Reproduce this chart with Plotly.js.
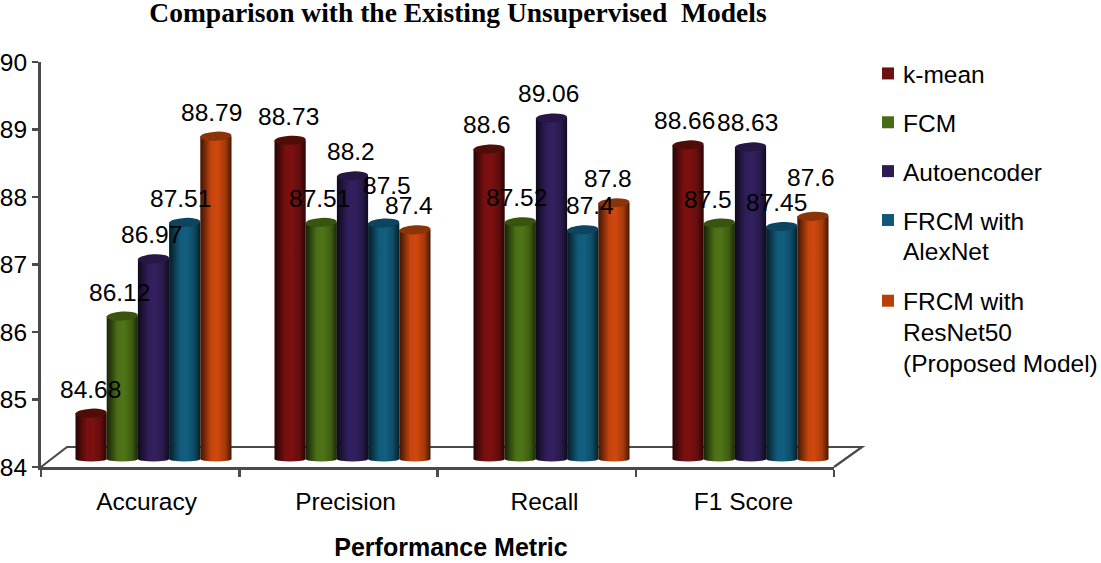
<!DOCTYPE html>
<html><head><meta charset="utf-8">
<script src="https://cdn.plot.ly/plotly-3.0.1.min.js"></script>
<style>html,body{margin:0;padding:0;background:#fff}</style></head>
<body><div id="chart" style="width:1101px;height:563px"></div>
<script>
const metrics = ["Accuracy", "Precision", "Recall", "F1 Score"];
const seriesNames = ["k-mean", "FCM", "Autoencoder", "FRCM with<br>AlexNet", "FRCM with<br>ResNet50<br>(Proposed Model)"];
const kMean = [84.68, 88.73, 88.6, 88.66];
const fcm = [86.12, 87.51, 87.52, 87.5];
const autoencoder = [86.97, 88.2, 89.06, 88.63];
const frcmAlexNet = [87.51, 87.5, 87.4, 87.45];
const frcmResNet = [88.79, 87.4, 87.8, 87.6];
const seriesValues = [kMean, fcm, autoencoder, frcmAlexNet, frcmResNet];
const legendColors = ["#6c1010", "#476b14", "#2c1b54", "#115878", "#bb4008"];
const bodyColors = ["#7d1010", "#4f7517", "#33205f", "#125f80", "#d0480e"];
const topColors = ["#4f0d08", "#39540f", "#261745", "#0d4460", "#8a3408"];
// hand placement of the value labels, px relative to the default spot (series x metric)
const labelDx = [[-1,-2,-2,-4],[-3,-2,-4,-11],[-2,-2,-3,-3],[-4,3,7,-5],[-4,-6,-6,-2]];
const labelDy = [[0,0,0,0],[0,0,0,0],[0,0,0,0],[0,14,0,0],[0,0,0,15]];

const W = 1101, H = 563;
const PL = 41, PR = 880, PT = 40, PB = 480;
const fx = p => (p - PL) / (PR - PL);
const fy = p => (PB - p) / (PB - PT);
const barSpan = 199;

const traces = seriesValues.map((vals, i) => ({
  type: "bar", name: seriesNames[i], xaxis: "x2", yaxis: "y2",
  x: metrics.map((m, k) => k + 0.5), y: vals.map(v => v - 84), base: 84,
  marker: {color: legendColors[i], line: {width: 0}},
  cliponaxis: false, legendgroup: "g" + i, hoverinfo: "skip"
}));
// invisible carriers so the frame axis and the label axis both exist
["x", "x3"].forEach(ax => traces.push({type: "scatter", mode: "markers", x: [0.5], y: [84], xaxis: ax, yaxis: "y",
  marker: {opacity: 0, size: 1}, showlegend: false, hoverinfo: "skip", cliponaxis: false}));

const GAP = 0.216, barW = (1 - GAP) / 5;
const annotations = [];
seriesValues.forEach((vals, i) => vals.forEach((v, k) => annotations.push({
  xref: "x2", yref: "y2", x: k + 0.5 + (i - 2) * barW, y: v, text: String(v),
  showarrow: false, yanchor: "middle", xanchor: "center",
  xshift: labelDx[i][k], yshift: 24 + labelDy[i][k],
  font: {family: "Liberation Sans", size: 24.5, color: "#000"}
})));

const axisColor = "#4a4a4a";
const layout = {
  width: W, height: H, paper_bgcolor: "#fff", plot_bgcolor: "rgba(0,0,0,0)",
  margin: {l: PL, r: W - PR, t: PT, b: H - PB, autoexpand: false},
  font: {family: "Liberation Sans", size: 24.5, color: "#000"},
  title: {text: "Comparison with the Existing Unsupervised\u00a0 Models",
    font: {family: "Liberation Serif", size: 27.5, weight: "bold", color: "#000"},
    x: 458 / W, xanchor: "center", xref: "container", y: 1 - 12 / H, yanchor: "middle", yref: "container"},
  barmode: "group", bargap: GAP, bargroupgap: 0,
  xaxis: {domain: [fx(41), fx(834)], range: [0, 4], tickvals: [0, 1, 2, 3, 4], showticklabels: false,
    ticks: "outside", ticklen: 7, tickwidth: 2.5, tickcolor: axisColor, showline: true, linecolor: axisColor,
    linewidth: 3, showgrid: false, zeroline: false, anchor: "y", fixedrange: true},
  yaxis: {domain: [fy(467), fy(62)], range: [84, 90], tickvals: [84, 85, 86, 87, 88, 89, 90],
    ticks: "outside", ticklen: 6, tickwidth: 2.5, tickcolor: axisColor, showline: true, linecolor: axisColor, ticklabelstandoff: 0,
    linewidth: 3, showgrid: false, zeroline: false, anchor: "x", tickfont: {size: 24.5}, fixedrange: true},
  xaxis2: {domain: [fx(54), fx(850)], range: [0, 4], visible: false, anchor: "y2", fixedrange: true},
  yaxis2: {domain: [fy(459), fy(459 - 404.4)], range: [84, 90], visible: false, anchor: "x2", fixedrange: true},
  xaxis3: {domain: [fx(47), fx(855)], range: [0, 808 / barSpan], tickvals: [0.5, 1.5, 2.5, 3.5], ticktext: metrics,
    anchor: "y", showline: false, showgrid: false, zeroline: false,
    ticks: "outside", ticklen: 13, tickcolor: "rgba(0,0,0,0)", tickfont: {size: 24.5}, fixedrange: true,
    title: {text: "Performance Metric", font: {family: "Liberation Sans", size: 25, weight: "bold", color: "#000"}, standoff: 24}},
  legend: {x: fx(868), xanchor: "left", y: fy(51), yanchor: "top", traceorder: "grouped",
    tracegroupgap: 14, itemwidth: 30, font: {size: 24.5, color: "#000"}, bgcolor: "rgba(0,0,0,0)", borderwidth: 0, itemclick: false, itemdoubleclick: false},
  shapes: [{type: "path", layer: "below", xref: "paper", yref: "paper",
    path: `M${fx(41)},${fy(467)} L${fx(67)},${fy(447)} L${fx(862)},${fy(447)} L${fx(834)},${fy(467)}`,
    line: {color: axisColor, width: 2.2}}],
  annotations
};

Plotly.newPlot("chart", traces, layout, {displayModeBar: false, staticPlot: true}).then(gd => {
  const NS = "http://www.w3.org/2000/svg";
  const svg = gd.querySelector("svg.main-svg");
  const defs = svg.querySelector("defs") || svg.insertBefore(document.createElementNS(NS, "defs"), svg.firstChild);
  const shade = (hex, f) => "rgb(" + [1, 3, 5].map(p => Math.round(parseInt(hex.substr(p, 2), 16) * f)).join(",") + ")";
  bodyColors.forEach((c, i) => {
    const g = document.createElementNS(NS, "linearGradient");
    g.setAttribute("id", "cyl" + i);
    [[0, .3], [.14, .55], [.35, .95], [.55, 1], [.8, .8], [.93, .5], [1, .32]].forEach(([o, f]) => {
      const s = document.createElementNS(NS, "stop");
      s.setAttribute("offset", o); s.setAttribute("stop-color", shade(c, f)); g.appendChild(s);
    });
    defs.appendChild(g);
  });
  gd.querySelectorAll(".barlayer .trace.bars").forEach((tr, i) => {
    tr.querySelectorAll(".point").forEach(pt => {
      const path = pt.querySelector("path");
      const b = path.getBBox();
      path.style.fill = "url(#cyl" + i + ")";
      path.style.fillOpacity = 1;
      const cx = b.x + b.width / 2, rx = b.width / 2;
      const bottom = document.createElementNS(NS, "ellipse");
      bottom.setAttribute("cx", cx); bottom.setAttribute("cy", b.y + b.height);
      bottom.setAttribute("rx", rx); bottom.setAttribute("ry", 2.5);
      bottom.setAttribute("style", "fill:url(#cyl" + i + ")");
      pt.insertBefore(bottom, path);
      const top = document.createElementNS(NS, "ellipse");
      top.setAttribute("cx", cx); top.setAttribute("cy", b.y);
      top.setAttribute("rx", rx); top.setAttribute("ry", 4.5);
      top.setAttribute("transform", `rotate(-3 ${cx} ${b.y})`);
      top.setAttribute("style", "fill:" + topColors[i]);
      pt.appendChild(top);
    });
  });
  // legend: swatch on the first text line, text closer to the swatch, slightly tighter lines
  gd.querySelectorAll(".legend .traces").forEach((tr, i) => {
    const n = seriesNames[i].split("<br>").length;
    const sym = tr.querySelector(".legendsymbols");
    if (sym) sym.setAttribute("transform", `translate(0,${-(n - 1) * 15.9})`);
    const txt = tr.querySelector(".legendtext");
    if (txt) {
      txt.setAttribute("transform", "translate(-5,0)");
      txt.querySelectorAll("tspan.line").forEach((t, k) => {
        const y = parseFloat(t.getAttribute("y"));
        if (!isNaN(y)) t.setAttribute("y", y - k);
      });
    }
  });
});
</script></body></html>
